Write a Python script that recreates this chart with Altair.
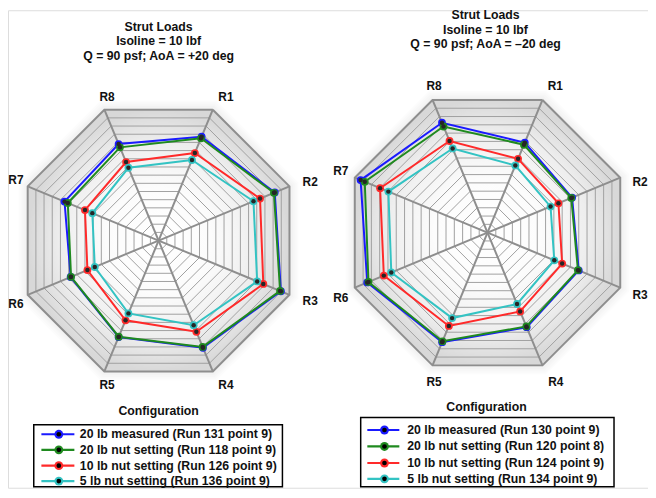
import math
import altair as alt
import pandas as pd

# ---------------- data ----------------
spokes = ["R1", "R2", "R3", "R4", "R5", "R6", "R7", "R8"]
series_names = ["20 lb measured", "20 lb nut setting", "10 lb nut setting", "5 lb nut setting"]
series_colors = ["#1a1aff", "#1f8a1f", "#ff2a2a", "#33c3c3"]

left_title = ["Strut Loads", "Isoline = 10 lbf", "Q = 90 psf; AoA = +20 deg"]
right_title = ["Strut Loads", "Isoline = 10 lbf", "Q = 90 psf; AoA = \u201320 deg"]
legend_title = "Configuration"
left_runs = ["(Run 131 point 9)", "(Run 118 point 9)", "(Run 126 point 9)", "(Run 136 point 9)"]
right_runs = ["(Run 130 point 9)", "(Run 120 point 8)", "(Run 124 point 9)", "(Run 134 point 9)"]

# values in lbf, order R1..R8
left_measured_20 = [127, 142, 149.5, 131, 118, 107.5, 115, 118]
left_nut_20 = [125, 141, 148.5, 130, 117.5, 107, 111, 114]
left_nut_10 = [107, 124, 128, 111.5, 97.5, 87, 90, 96]
left_nut_5 = [98.5, 116, 120.5, 103.5, 89, 78, 81, 89]

right_measured_20 = [108.5, 102, 110, 114, 132, 145, 153, 132.5]
right_nut_20 = [106, 101, 109, 113, 131, 143.5, 148, 128]
right_nut_10 = [89, 85.5, 90, 95, 112.5, 125, 129.5, 110.5]
right_nut_5 = [81, 76, 80.5, 86, 103, 116, 119.5, 101.5]

isoline_step = 10
radial_max = 160

# ---------------- layout ----------------
W, H = 646, 482
FONT = "Liberation Sans"
panels = {
    "L": dict(cx=152, cy=232.5, R=143, title=left_title, runs=left_runs,
              series=[left_measured_20, left_nut_20, left_nut_10, left_nut_5],
              title_y=[17, 31.5, 46], title_x=152,
              labels=[(220, 88), (305, 173), (305, 294), (220, 378),
                      (100, 378), (8, 297), (8, 171), (100, 88)],
              leg_title=(152, 404.5), box=(26, 277, 418.5, 481),
              rows=[428, 443.7, 459.7, 475.3], line=(33.7, 67), circ=51.3, text_x=72.5),
    "R": dict(cx=484, cy=224.5, R=145, title=right_title, runs=right_runs,
              series=[right_measured_20, right_nut_20, right_nut_10, right_nut_5],
              title_y=[5, 19.5, 34.5], title_x=482,
              labels=[(552.5, 77), (638, 173), (638, 287), (553, 375),
                      (430, 375), (336, 290), (336, 162), (430, 77)],
              leg_title=(483, 400.3), box=(356, 611.7, 411, 481),
              rows=[423.7, 440.3, 457, 473], line=(362.7, 395), circ=380, text_x=403),
}


def polar(p, value, k):
    a = math.radians(22.5 + 45 * k)
    s = p["R"] / radial_max
    return p["cx"] + value * s * math.sin(a), p["cy"] - value * s * math.cos(a)


bg_rows, shadow_rows, ring_rows, spoke_rows = [], [], [], []
line_rows, label_rows, title_rows = [], [], []
box_rows, leg_line_rows, leg_pt_rows, leg_text_rows = [], [], [], []

for pk, p in panels.items():
    for i in range(9):
        k = i % 8
        x, y = polar(p, radial_max, k)
        bg_rows.append(dict(key=pk, i=i, x=x, y=y))
        for ext in (2, 4, 6, 8, 10):
            xs_, ys_ = polar(p, radial_max * (p["R"] + ext) / p["R"], k)
            shadow_rows.append(dict(key=f"{pk}{ext}", i=i, x=xs_, y=ys_))
        for v in range(isoline_step, radial_max, isoline_step):
            xr, yr = polar(p, v, k)
            ring_rows.append(dict(key=f"{pk}{v}", i=i, x=xr, y=yr))
    for k in range(8):
        for j, v in enumerate((0, radial_max)):
            x, y = polar(p, v, k)
            spoke_rows.append(dict(key=f"{pk}{k}", i=j, x=x, y=y))
    for s, (vals, col) in enumerate(zip(p["series"], series_colors)):
        for i in range(9):
            k = i % 8
            x, y = polar(p, vals[k], k)
            line_rows.append(dict(key=f"{pk}{s}", s=s, i=i, x=x, y=y, color=col))
    for name, (lx, ly) in zip(spokes, p["labels"]):
        label_rows.append(dict(x=lx, y=ly, text=name))
    for t, ty in zip(p["title"], p["title_y"]):
        title_rows.append(dict(x=p["title_x"], y=ty, text=t))
    # legend
    title_rows.append(dict(x=p["leg_title"][0], y=p["leg_title"][1], text=legend_title))
    bx0, bx1, by0, by1 = p["box"]
    box_rows.append(dict(x=bx0, x2=bx1, y=by0, y2=by1))
    for s, (nm, run, col, ry) in enumerate(zip(series_names, p["runs"], series_colors, p["rows"])):
        leg_line_rows.append(dict(key=f"{pk}{s}", i=0, x=p["line"][0], y=ry, color=col))
        leg_line_rows.append(dict(key=f"{pk}{s}", i=1, x=p["line"][1], y=ry, color=col))
        leg_pt_rows.append(dict(x=p["circ"], y=ry, color=col))
        leg_text_rows.append(dict(x=p["text_x"], y=ry, text=f"{nm} {run}"))

bg = pd.DataFrame(bg_rows)
shadow = pd.DataFrame(shadow_rows)
rings = pd.DataFrame(ring_rows)
spk = pd.DataFrame(spoke_rows)
lines = pd.DataFrame(line_rows)
pts = lines[lines["i"] < 8]
labels = pd.DataFrame(label_rows)
titles = pd.DataFrame(title_rows)
boxes = pd.DataFrame(box_rows)
leg_lines = pd.DataFrame(leg_line_rows)
leg_pts = pd.DataFrame(leg_pt_rows)
leg_text = pd.DataFrame(leg_text_rows)

xs = alt.Scale(domain=[0, W], nice=False, zero=False)
ys = alt.Scale(domain=[0, H], nice=False, zero=False, reverse=True)
X = alt.X("x:Q", scale=xs, axis=None)
Y = alt.Y("y:Q", scale=ys, axis=None)

gradient = {
    "gradient": "radial",
    "x1": 0.5, "y1": 0.5, "r1": 0,
    "x2": 0.5, "y2": 0.5, "r2": 0.5,
    "stops": [
        {"offset": 0, "color": "#ffffff"},
        {"offset": 0.4, "color": "#fcfcfc"},
        {"offset": 0.75, "color": "#eeeeee"},
        {"offset": 1, "color": "#d8d8d8"},
    ],
}

shadow_layer = alt.Chart(shadow).mark_line(fill="#000000", fillOpacity=0.012, strokeWidth=0).encode(
    x=X, y=Y, detail="key:N", order="i:Q")
bg_layer = alt.Chart(bg).mark_line(fill=gradient, strokeWidth=0).encode(
    x=X, y=Y, detail="key:N", order="i:Q")
ring_layer = alt.Chart(rings).mark_line(color="#a0a0a0", strokeWidth=1).encode(
    x=X, y=Y, detail="key:N", order="i:Q")
spoke_layer = alt.Chart(spk).mark_line(color="#8e8e8e", strokeWidth=2).encode(
    x=X, y=Y, detail="key:N", order="i:Q")
outer_layer = alt.Chart(bg).mark_line(color="#8e8e8e", strokeWidth=2).encode(
    x=X, y=Y, detail="key:N", order="i:Q")
series_layer = alt.Chart(lines).mark_line(strokeWidth=2).encode(
    x=X, y=Y, detail="key:N", order="i:Q", color=alt.Color("color:N", scale=None))
pt_layer = alt.Chart(pts).mark_circle(size=62, opacity=1).encode(
    x=X, y=Y, color=alt.Color("color:N", scale=None))
dot_layer = alt.Chart(pts).mark_circle(size=20, opacity=1, color="#262626").encode(x=X, y=Y)
label_layer = alt.Chart(labels).mark_text(font=FONT, fontSize=12, fontWeight="bold",
                                          color="#111111", baseline="middle").encode(
    x=X, y=Y, text="text:N")
title_layer = alt.Chart(titles).mark_text(font=FONT, fontSize=12.4, fontWeight="bold",
                                          color="#111111", baseline="middle").encode(
    x=X, y=Y, text="text:N")
box_layer = alt.Chart(boxes).mark_rect(fill="white", stroke="#000000", strokeWidth=1.5).encode(
    x=X, x2="x2:Q", y=Y, y2="y2:Q")
leg_line_layer = alt.Chart(leg_lines).mark_line(strokeWidth=2.2).encode(
    x=X, y=Y, detail="key:N", order="i:Q", color=alt.Color("color:N", scale=None))
leg_pt_layer = alt.Chart(leg_pts).mark_circle(size=80, opacity=1).encode(
    x=X, y=Y, color=alt.Color("color:N", scale=None))
leg_dot_layer = alt.Chart(leg_pts).mark_circle(size=22, opacity=1, color="#000000").encode(x=X, y=Y)
leg_text_layer = alt.Chart(leg_text).mark_text(font=FONT, fontSize=12.4, fontWeight="bold",
                                               color="#111111", align="left",
                                               baseline="middle").encode(
    x=X, y=Y, text="text:N")

chart = alt.layer(
    shadow_layer, bg_layer, ring_layer, spoke_layer, outer_layer,
    series_layer, pt_layer, dot_layer, label_layer, title_layer,
    box_layer, leg_line_layer, leg_pt_layer, leg_dot_layer, leg_text_layer,
).properties(
    width=W, height=H, padding=0, autosize=alt.AutoSizeParams(type="none")
).configure_view(strokeWidth=0).configure(background="white")

chart.save("out.html", embed_options={"renderer": "svg", "actions": False})
